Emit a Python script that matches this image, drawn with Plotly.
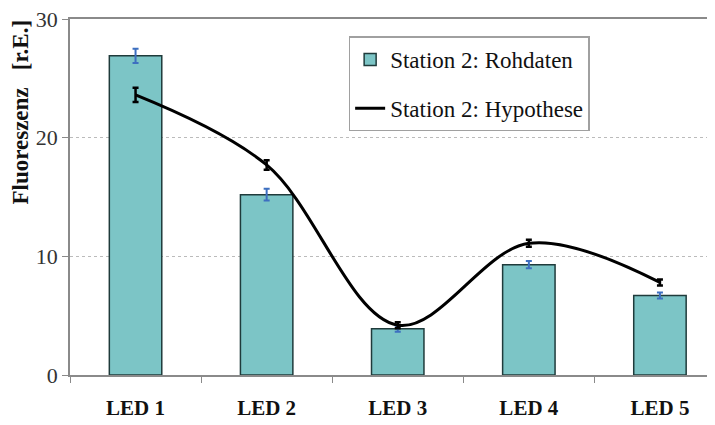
import plotly.graph_objects as go

categories = ["LED 1", "LED 2", "LED 3", "LED 4", "LED 5"]
rohdaten = [26.9, 15.2, 3.9, 9.3, 6.7]
rohdaten_err = [0.6, 0.5, 0.25, 0.3, 0.25]
hypothese = [23.6, 17.7, 4.2, 11.1, 7.8]
hypothese_err = [0.6, 0.4, 0.25, 0.3, 0.25]
y_ticks = [0, 10, 20, 30]

serif = "Liberation Serif"

fig = go.Figure()
fig.add_trace(go.Bar(
    x=categories, y=rohdaten, name="Station 2: Rohdaten",
    marker=dict(color="#7cc5c6", line=dict(color="#1f3b3b", width=1.5)),
    width=0.4,
    error_y=dict(type="data", array=rohdaten_err, color="#3d6fc0", thickness=2, width=3),
    legendgroup="a",
))
fig.add_trace(go.Scatter(
    x=categories, y=hypothese, name="Station 2: Hypothese",
    mode="lines", line=dict(color="black", width=3, shape="spline", smoothing=1.0),
    error_y=dict(type="data", array=hypothese_err, color="black", thickness=2.5, width=3),
    legendgroup="b",
))

fig.update_layout(
    width=707, height=417,
    margin=dict(l=62, r=0, t=11, b=50),
    plot_bgcolor="white", paper_bgcolor="white",
    font=dict(family=serif, color="#222", size=21),
    showlegend=True,
    legend=dict(
        x=0.432, y=0.951, xanchor="left", yanchor="top",
        bordercolor="#a0a0a0", borderwidth=1.5,
        font=dict(family=serif, size=23, color="#111"),
        tracegroupgap=16, traceorder="grouped",
        bgcolor="white",
    ),
    xaxis=dict(
        range=[-0.5, 4.42],
        showline=True, linecolor="#8a8a8a", linewidth=1.5, mirror=True,
        ticks="outside", tickson="boundaries", ticklen=6, tickcolor="#8a8a8a",
        tickfont=dict(family=serif, size=21, color="#111", weight="bold"),
        ticklabelstandoff=13,
        showgrid=False,
    ),
    yaxis=dict(
        range=[0, 30], tickvals=y_ticks,
        showline=True, linecolor="#8a8a8a", linewidth=1.5,
        ticks="outside", ticklen=6, tickcolor="#8a8a8a",
        tickfont=dict(family=serif, size=22, color="#333"),
        ticklabeloverflow="allow",
        showgrid=True, gridcolor="#bbbbbb", griddash="dot", gridwidth=1,
        zeroline=False,
    ),
    annotations=[dict(
        text="<b>Fluoreszenz\u00a0\u00a0\u00a0[r.E.]</b>", textangle=-90,
        xref="paper", yref="paper", x=-0.076, y=0.74,
        xanchor="center", yanchor="middle", showarrow=False,
        font=dict(family=serif, size=23, color="#111"),
    )],
)

fig.write_html("out.html")
